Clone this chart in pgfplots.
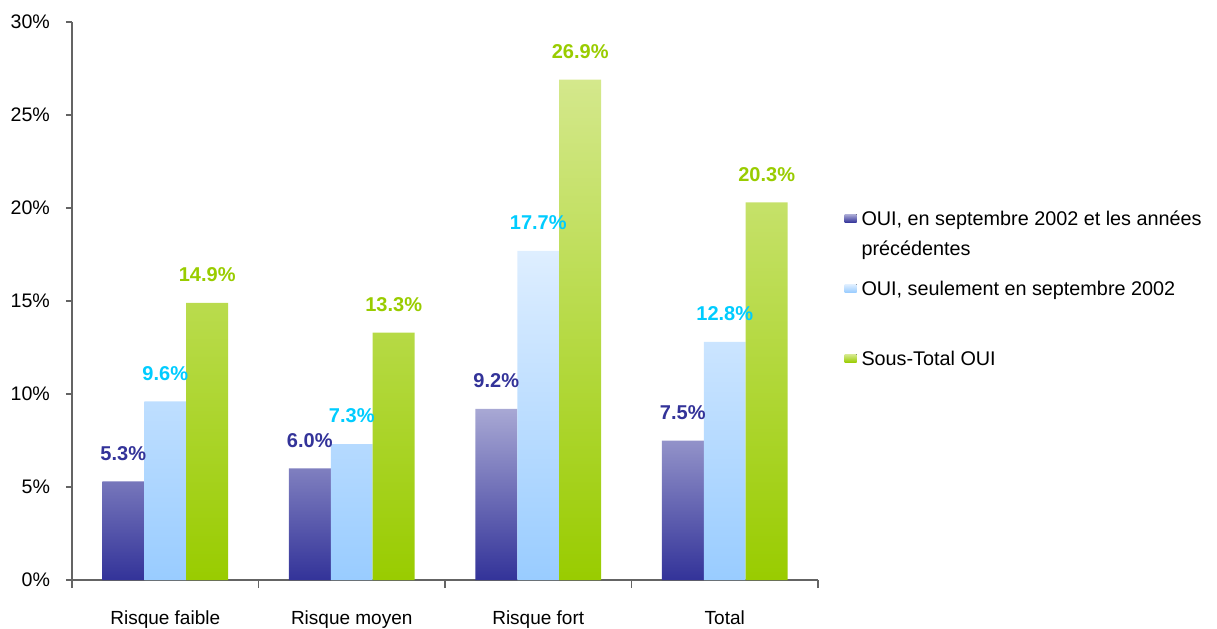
\documentclass[border=0pt]{standalone}
\usepackage{pgfplots}
\pgfplotsset{compat=1.18}
\usepackage{fontspec}
\setmainfont{Liberation Sans}
\definecolor{pTop}{RGB}{168,168,212}
\definecolor{pMid}{RGB}{140,140,195}
\definecolor{pBot}{RGB}{51,51,153}
\definecolor{bTop}{RGB}{222,238,255}
\definecolor{bBot}{RGB}{153,204,255}
\definecolor{gTop}{RGB}{212,232,140}
\definecolor{gBot}{RGB}{153,204,0}
\definecolor{pLab}{RGB}{51,51,153}
\definecolor{bLab}{RGB}{0,204,255}
\definecolor{gLab}{RGB}{153,204,0}
\definecolor{axgray}{RGB}{100,100,100}
\begin{document}
\begin{tikzpicture}
\useasboundingbox (-36pt,-24pt) rectangle (572.5pt,290pt);
\begin{axis}[
  scale only axis, width=373pt, height=279pt,
  at={(0,0)}, anchor=south west,
  xmin=-0.5, xmax=3.5, ymin=0, ymax=30,
  axis x line*=bottom, axis y line*=left,
  axis line style={axgray, line width=0.6pt},
  tick style={axgray, line width=0.6pt},
  tick align=outside,
  xtick={0,1,2,3},
  xticklabels={Risque faible, Risque moyen, Risque fort, Total},
  major x tick style={draw=none},
  minor xtick={-0.5,0.5,1.5,2.5,3.5},
  minor tick length=4pt,
  major tick length=3pt,
  ytick={0,5,10,15,20,25,30},
  yticklabel={\pgfmathprintnumber{\tick}\%},
  /pgf/number format/assume math mode=true,
  yticklabel style={font=\fontsize{9.8}{11}\selectfont, xshift=-4.5pt},
  xticklabel style={font=\fontsize{9.5}{11}\selectfont, yshift=-9pt},
  ybar=0pt, bar width=0.225,
  clip=false,
  nodes near coords={\pgfmathprintnumber[fixed,precision=1,fixed zerofill]{\pgfplotspointmeta}\%},
  nodes near coords style={font=\fontsize{10}{12}\selectfont\bfseries, yshift=7pt},
  legend style={at={(1.035,0.663)}, anchor=north west, draw=none, fill=none,
    inner sep=0pt, nodes={inner xsep=2.5pt, inner ysep=0pt},
    font=\fontsize{9.9}{15}\selectfont, cells={anchor=base west}, row sep=0pt},
  legend image code/.code={\fill[#1] (0pt,1.3pt) rectangle (6pt,5.3pt);},
]
\addplot[draw=none, top color=pTop, middle color=pMid, bottom color=pBot,
  nodes near coords style={text=pLab}]
  coordinates {(0,5.3) (1,6.0) (2,9.2) (3,7.5)};
\addlegendentry{\rule[-2pt]{0pt}{8pt}OUI, en septembre 2002 et les années}
\addlegendimage{empty legend}
\addlegendentry{\rule[-2pt]{0pt}{15.5pt}précédentes}
\addplot[draw=none, top color=bTop, bottom color=bBot,
  nodes near coords style={text=bLab}]
  coordinates {(0,9.6) (1,7.3) (2,17.7) (3,12.8)};
\addlegendentry{\rule[-2pt]{0pt}{20.5pt}OUI, seulement en septembre 2002}
\addplot[draw=none, top color=gTop, bottom color=gBot,
  nodes near coords style={text=gLab}]
  coordinates {(0,14.9) (1,13.3) (2,26.9) (3,20.3)};
\addlegendentry{\rule[-2pt]{0pt}{35.5pt}Sous-Total OUI}
\end{axis}
\end{tikzpicture}
\end{document}
